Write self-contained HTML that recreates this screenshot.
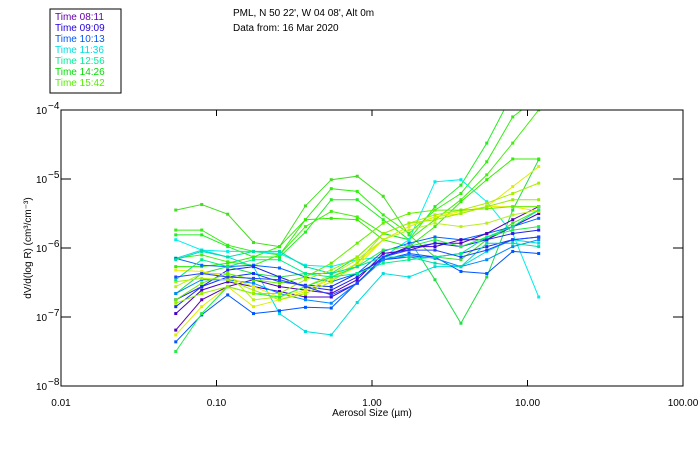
<!DOCTYPE html>
<html><head><meta charset="utf-8"><style>
body{margin:0;background:#fff;width:700px;height:450px;overflow:hidden}
svg text{font-family:"Liberation Sans",sans-serif;font-size:10px}
</style></head><body>
<svg width="700" height="450">
<rect x="50" y="9" width="71" height="84" fill="#fff" stroke="#000"/>
<g id="legend"></g>
<text x="233" y="16">PML, N 50 22', W 04 08', Alt 0m</text>
<text x="233" y="31">Data from: 16 Mar 2020</text>
<defs><clipPath id="pc"><rect x="61" y="110" width="622" height="276"/></clipPath></defs>
<g id="series" clip-path="url(#pc)"></g>
<rect x="61" y="110" width="622" height="276" fill="none" stroke="#000"/>
<g id="axes"></g>
<text x="372" y="416" text-anchor="middle">Aerosol Size (µm)</text>
<text transform="translate(31,248) rotate(-90)" text-anchor="middle">dV/d(log R) (cm³/cm⁻³)</text>
</svg>
<script>
const legendLabels=["Time 08:11","Time 09:09","Time 10:13","Time 11:36","Time 12:56","Time 14:26","Time 15:42"];
const legendColors=["#6600aa","#2200dd","#0055ff","#00dddd","#00ee99","#00dd00","#55ee00"];
const xTicks=[0.01,0.1,1,10,100];
const xTickLabels=["0.01","0.10","1.00","10.00","100.00"];
const yTicks=[-4,-5,-6,-7,-8];
const sizeExp=[-1.262,-1.095,-0.928,-0.762,-0.595,-0.428,-0.262,-0.095,0.072,0.238,0.405,0.572,0.738,0.905,1.072];
const seriesColors=["#44dd22","#33ee11","#22ee22","#44ee11","#22dd44","#33ee00","#00eeee","#00dddd","#0066ff","#0055ff","#5500bb","#4400cc","#2222ee","#1133ee","#0088ff","#eeee00","#ddee00","#aaee00","#bbee22","#22ee44","#00ddaa","#00ee88","#66ee00","#99ee00","#2244ff"];
const seriesZ=[
[330,313,343,428,440,318,240,229,288,405,470,480,420,370,330],
[390,390,435,455,465,360,265,275,345,400,330,280,185,50,-10],
[405,405,440,470,470,396,300,300,360,420,320,255,130,-20,-60],
[475,465,485,495,465,380,335,350,400,420,360,300,225,130,30],
[580,520,500,520,530,520,520,470,400,420,540,670,530,330,180],
[500,500,490,470,440,360,355,360,420,440,380,305,240,178,178],
[420,450,455,455,460,495,500,480,470,420,245,240,305,400,590],
[475,450,470,500,640,695,705,607,520,530,500,500,455,420,430],
[475,495,500,495,505,530,545,520,455,430,410,420,400,380,355],
[725,645,585,640,632,622,625,548,480,460,470,515,520,455,460],
[690,600,560,540,560,570,580,540,460,450,430,430,400,360,320],
[640,570,545,560,575,590,590,550,470,440,440,420,420,380,340],
[600,560,510,500,530,560,570,530,470,445,430,440,420,400,390],
[620,560,530,520,545,555,560,520,480,470,470,460,440,420,410],
[580,540,540,550,580,600,610,550,480,465,475,500,480,440,420],
[510,515,530,560,590,570,540,500,420,380,350,335,320,320,335],
[705,620,560,620,600,575,530,490,420,380,350,340,320,260,200],
[545,535,540,570,600,580,545,490,400,370,345,330,310,280,250],
[560,520,520,600,590,560,525,480,420,390,370,380,370,345,330],
[755,640,560,580,590,560,530,500,450,440,420,440,410,390,380],
[480,455,470,455,455,500,520,500,470,470,490,500,430,430,440],
[540,480,500,480,480,520,530,520,490,480,470,460,410,380,330],
[600,550,520,540,550,530,490,430,370,340,330,330,325,320,320],
[610,580,560,580,580,540,510,470,400,370,360,340,320,300,300],
[530,520,530,535,540,560,585,550,470,450,450,470,450,420,410]];
// convert read positions to log10 dV values
const seriesLog=seriesZ.map(r=>r.map(z=>+(-4-(z-30)/207).toFixed(2)));
const NS="http://www.w3.org/2000/svg";
const X=v=>61+(Math.log10(v)+2)*155.5;
const Y=l=>110+(-4-l)*69;
function mk(t,a,p){const e=document.createElementNS(NS,t);for(const k in a)e.setAttribute(k,a[k]);p.appendChild(e);return e;}
const lg=document.getElementById('legend');
legendLabels.forEach((s,i)=>{const t=mk('text',{x:55,y:20+i*11,fill:legendColors[i]},lg);t.textContent=s;

});
const ax=document.getElementById('axes');
xTicks.forEach((v,i)=>{const x=X(v);
if(i>0&&i<4){mk('line',{x1:x,x2:x,y1:386,y2:380,stroke:'#000'},ax);mk('line',{x1:x,x2:x,y1:110,y2:116,stroke:'#000'},ax);}
const t=mk('text',{x:x,y:406,'text-anchor':'middle'},ax);t.textContent=xTickLabels[i];

});
yTicks.forEach((l,i)=>{const y=Y(l);
if(i>0&&i<4){mk('line',{x1:61,x2:71,y1:y,y2:y,stroke:'#000'},ax);mk('line',{x1:683,x2:673,y1:y,y2:y,stroke:'#000'},ax);}
const t=mk('text',{x:36,y:y+4},ax);t.textContent='10';


const s=mk('text',{x:48,y:y-1,'font-size':'7'},ax);s.textContent=String(l).replace('-','−');});
const sg=document.getElementById('series');
seriesLog.forEach((r,i)=>{const c=seriesColors[i];
const pts=r.map((l,k)=>X(Math.pow(10,sizeExp[k])).toFixed(1)+','+Y(l).toFixed(1)).join(' ');
const pl=mk('polyline',{points:pts,fill:'none',stroke:c,'stroke-width':1},sg);


r.forEach((l,k)=>{const m=mk('rect',{x:X(Math.pow(10,sizeExp[k]))-1.5,y:Y(l)-1.5,width:3,height:3,fill:c},sg);

});});
</script>
</body></html>
